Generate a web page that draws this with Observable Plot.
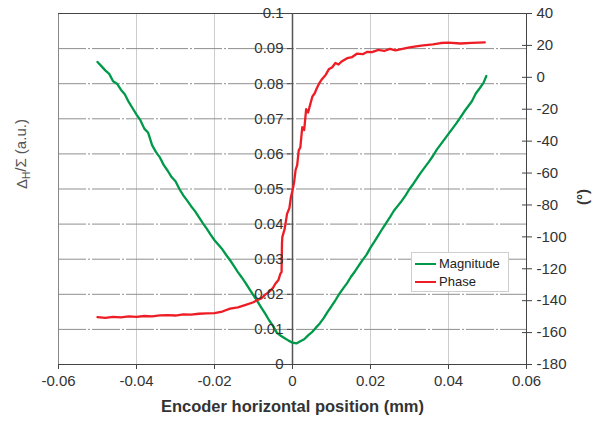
<!DOCTYPE html>
<html>
<head>
<meta charset="utf-8">
<script src="https://cdn.jsdelivr.net/npm/d3@7"></script>
<script src="https://cdn.jsdelivr.net/npm/@observablehq/plot@0.6"></script>
<style>
  html, body { margin: 0; padding: 0; background: #fff; }
  #wrap { position: relative; width: 593px; height: 424px; font-family: "Liberation Sans", Arial, sans-serif; }
  #legend { position: absolute; left: 411px; top: 252px; width: 96px; height: 38px; background: #fff; border: 1px solid #cfcfcf; font-size: 13px; color: #222; }
  #legend .row { position: absolute; left: 3px; height: 16px; line-height: 16px; white-space: nowrap; }
  #legend .sw { display: inline-block; width: 21px; height: 2px; vertical-align: middle; margin-right: 3px; position: relative; top: -1px; }
</style>
</head>
<body>
<div id="wrap"></div>
<script>
// ---- data ----
const magX = [-0.0500,-0.0490,-0.0480,-0.0470,-0.0460,-0.0450,-0.0440,-0.0430,-0.0420,-0.0410,-0.0400,-0.0390,-0.0380,-0.0370,-0.0360,-0.0350,-0.0340,-0.0330,-0.0320,-0.0310,-0.0300,-0.0290,-0.0280,-0.0270,-0.0260,-0.0250,-0.0240,-0.0230,-0.0220,-0.0210,-0.0200,-0.0190,-0.0180,-0.0170,-0.0160,-0.0150,-0.0140,-0.0130,-0.0120,-0.0110,-0.0100,-0.0090,-0.0080,-0.0070,-0.0060,-0.0050,-0.0040,-0.0030,-0.0020,-0.0010,0.0000,0.0010,0.0020,0.0030,0.0040,0.0050,0.0060,0.0070,0.0080,0.0090,0.0100,0.0110,0.0120,0.0130,0.0140,0.0150,0.0160,0.0170,0.0180,0.0190,0.0200,0.0210,0.0220,0.0230,0.0240,0.0250,0.0260,0.0270,0.0280,0.0290,0.0300,0.0310,0.0320,0.0330,0.0340,0.0350,0.0360,0.0370,0.0380,0.0390,0.0400,0.0410,0.0420,0.0430,0.0440,0.0450,0.0460,0.0470,0.0480,0.0490,0.0497];
const magY = [0.0862,0.0850,0.0838,0.0828,0.0807,0.0800,0.0783,0.0770,0.0748,0.0730,0.0712,0.0696,0.0672,0.0660,0.0625,0.0605,0.0590,0.0568,0.0552,0.0534,0.0522,0.0500,0.0482,0.0467,0.0451,0.0437,0.0420,0.0403,0.0387,0.0370,0.0354,0.0341,0.0328,0.0312,0.0297,0.0280,0.0263,0.0248,0.0232,0.0214,0.0197,0.0180,0.0162,0.0145,0.0126,0.0110,0.0090,0.0082,0.0075,0.0068,0.0062,0.0060,0.0066,0.0072,0.0083,0.0092,0.0105,0.0117,0.0132,0.0150,0.0166,0.0183,0.0201,0.0217,0.0232,0.0250,0.0265,0.0282,0.0298,0.0313,0.0333,0.0350,0.0368,0.0386,0.0403,0.0420,0.0438,0.0452,0.0466,0.0482,0.0500,0.0515,0.0532,0.0548,0.0563,0.0578,0.0594,0.0612,0.0627,0.0642,0.0657,0.0672,0.0687,0.0703,0.0720,0.0735,0.0750,0.0772,0.0787,0.0803,0.0822];

const phaseX = [-0.0500,-0.0480,-0.0460,-0.0440,-0.0420,-0.0400,-0.0380,-0.0360,-0.0340,-0.0320,-0.0300,-0.0280,-0.0260,-0.0240,-0.0220,-0.0200,-0.0180,-0.0160,-0.0140,-0.0120,-0.0100,-0.0090,-0.0080,-0.0070,-0.0060,-0.0050,-0.0044,-0.0036,-0.0031,-0.0028,-0.0027,-0.0026,-0.0020,-0.0014,-0.0008,-0.0004,0.0000,0.0004,0.0008,0.0012,0.0016,0.0020,0.0025,0.0030,0.0035,0.0040,0.0046,0.0051,0.0057,0.0062,0.0068,0.0076,0.0085,0.0093,0.0102,0.0110,0.0118,0.0125,0.0140,0.0153,0.0165,0.0180,0.0192,0.0204,0.0220,0.0235,0.0250,0.0264,0.0300,0.0330,0.0360,0.0380,0.0400,0.0430,0.0460,0.0493];
const phaseDeg = [-150.3,-150.8,-150.2,-150.5,-149.9,-150.2,-149.6,-149.8,-149.2,-149.0,-149.3,-148.6,-148.8,-148.2,-148.0,-147.8,-146.8,-145.0,-144.2,-142.6,-141.0,-139.5,-138.6,-136.2,-134.5,-132.0,-129.4,-127.0,-123.0,-122.0,-104.0,-100.0,-95.0,-85.6,-82.0,-75.0,-70.9,-66.0,-58.0,-55.0,-45.8,-44.0,-31.3,-33.0,-20.0,-22.0,-16.5,-12.0,-10.0,-7.0,-4.0,-1.0,1.5,5.0,6.3,9.0,8.0,9.8,12.0,12.7,14.8,14.5,16.0,15.8,17.2,16.5,17.8,16.9,18.8,19.8,20.6,21.5,21.8,21.2,21.6,21.9];

const xTicks = [-0.06,-0.04,-0.02,0,0.02,0.04,0.06];
const xGrid = [-0.04,-0.02,0.02,0.04];
const leftTicks = [0,0.01,0.02,0.03,0.04,0.05,0.06,0.07,0.08,0.09,0.1];
const leftGrid = [0.01,0.02,0.03,0.04,0.05,0.06,0.07,0.08,0.09];
const rightTicks = [-180,-160,-140,-120,-100,-80,-60,-40,-20,0,20,40];
const seriesNames = ["Magnitude","Phase"];
const seriesColors = ["#00994a","#ee1d25"];

// phase (°) mapped onto the left scale: -180..40 ↔ 0..0.1
const phaseToLeft = p => (p + 180) / 2200;
const leftToPhase = v => Math.round(v * 2200 - 180);

const mag = magX.map((x, i) => ({x, y: magY[i]}));
const phase = phaseX.map((x, i) => ({x, p: phaseDeg[i]}));
const fmt = d => String(+d.toFixed(2));

function build(shift) {
  return Plot.plot({
    width: 593, height: 424,
    marginTop: 13, marginLeft: 58, marginRight: 67, marginBottom: 60,
    style: {fontFamily: "'Liberation Sans', Arial, sans-serif", color: "#333", background: "#fff", overflow: "visible"},
    x: {domain: [-0.06, 0.06]},
    y: {domain: [0, 0.1]},
    marks: [
      Plot.ruleX(xGrid, {stroke: "#cccccc", strokeWidth: 1}),
      Plot.ruleY(leftGrid, {stroke: "#8f8f8f", strokeWidth: 1, strokeDasharray: "28,2,2,2"}),
      Plot.ruleX([-0.06], {stroke: "#888", strokeWidth: 1}),
      Plot.ruleY([0.1], {stroke: "#444", strokeWidth: 1}),
      Plot.ruleX([0], {stroke: "#555", strokeWidth: 1.5}),
      Plot.line(mag, {x: "x", y: "y", stroke: seriesColors[0], strokeWidth: 2.3}),
      Plot.line(phase, {x: "x", y: d => phaseToLeft(d.p), stroke: seriesColors[1], strokeWidth: 2.3}),
      Plot.ruleY([0], {stroke: "#444", strokeWidth: 1}),
      Plot.ruleX([0.06], {stroke: "#444", strokeWidth: 1}),
      Plot.axisX(xTicks, {anchor: "bottom", tickSize: 5, tickPadding: 6, tickFormat: fmt, fontSize: 15, label: null, stroke: "#444"}),
      Plot.axisY(leftTicks, {anchor: "left", dx: shift, tickSize: 5, tickPadding: 4, tickFormat: fmt, fontSize: 15, label: null, stroke: "#444"}),
      Plot.axisY(rightTicks.map(phaseToLeft), {anchor: "right", dx: -5, tickSize: 10, tickPadding: 5, tickFormat: leftToPhase, fontSize: 15, label: null, stroke: "#444"}),
      Plot.text(["YLABEL"], {frameAnchor: "left", dx: -36, rotate: -90, fontSize: 15, fill: "#555"}),
      Plot.text(["(°)"], {frameAnchor: "right", dx: 57, rotate: -90, fontSize: 15, fontWeight: "bold", fill: "#333"}),
      Plot.text(["Encoder horizontal position (mm)"], {frameAnchor: "bottom", dy: 47, fontSize: 16.5, fontWeight: "bold", fill: "#333"})
    ]
  });
}

const probe = build(0);
const sx = probe.scale("x");
const shift = sx.apply(0) - sx.apply(-0.06);
const chart = build(shift);

d3.select(chart).selectAll("text").each(function() {
  if (this.textContent === "YLABEL") {
    this.innerHTML = 'Δ<tspan dy="0.3em" font-size="10">H</tspan><tspan dy="-0.3em">/Σ (a.u.)</tspan>';
  }
});

const wrap = document.getElementById("wrap");
wrap.appendChild(chart);

const legend = document.createElement("div");
legend.id = "legend";
seriesNames.forEach((name, i) => {
  const row = document.createElement("div");
  row.className = "row";
  row.style.top = (3 + i * 18) + "px";
  row.innerHTML = `<span class="sw" style="background:${seriesColors[i]}"></span>${name}`;
  legend.appendChild(row);
});
wrap.appendChild(legend);
</script>
</body>
</html>
